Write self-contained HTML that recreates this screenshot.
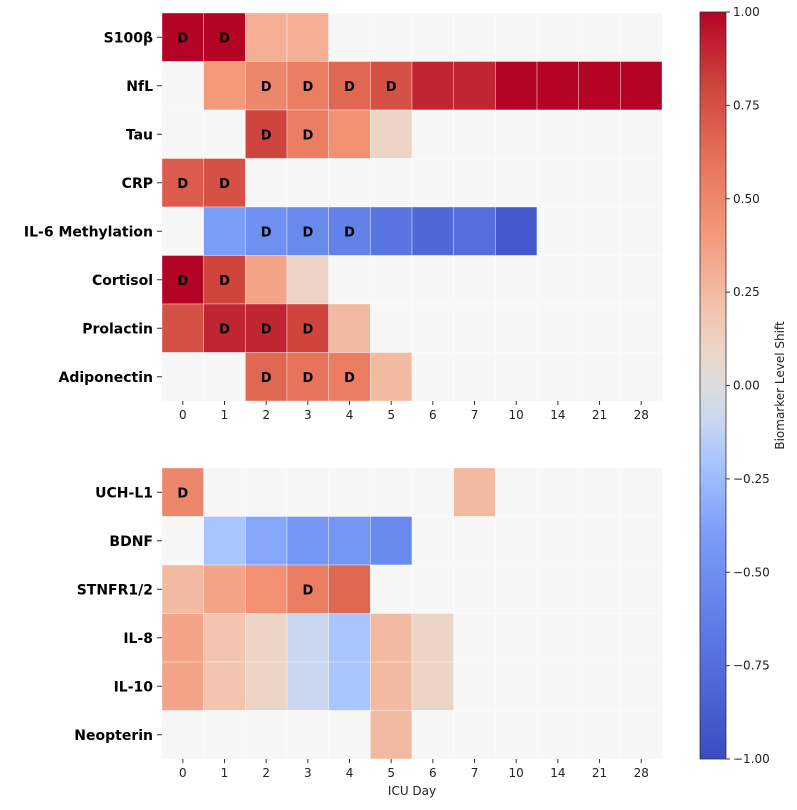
<!DOCTYPE html>
<html><head><meta charset="utf-8"><style>
body{margin:0;background:#fff;font-family:"DejaVu Sans","Liberation Sans",sans-serif}
</style></head><body>
<svg id="c" width="797" height="806" xmlns="http://www.w3.org/2000/svg">
<defs><linearGradient id="cg" x1="0" y1="1" x2="0" y2="0"></linearGradient></defs>
</svg>
<script>
const days=["0","1","2","3","4","5","6","7","10","14","21","28"];
const topRows=["S100β","NfL","Tau","CRP","IL-6 Methylation","Cortisol","Prolactin","Adiponectin"];
const topVals=[
[1,1,0.3,0.3,null,null,null,null,null,null,null,null],
[null,0.4,0.5,0.55,0.65,0.75,0.9,0.9,1,1,1,1],
[null,null,0.8,0.55,0.45,0.1,null,null,null,null,null,null],
[0.7,0.75,null,null,null,null,null,null,null,null,null,null],
[null,-0.4,-0.5,-0.55,-0.6,-0.7,-0.8,-0.75,-0.9,null,null,null],
[1,0.8,0.35,0.1,null,null,null,null,null,null,null,null],
[0.75,0.9,0.9,0.8,0.25,null,null,null,null,null,null,null],
[null,null,0.65,0.6,0.55,0.25,null,null,null,null,null,null]];
const topD=[[0,1],[2,3,4,5],[2,3],[0,1],[2,3,4],[0,1],[1,2,3],[2,3,4]];
const botRows=["UCH-L1","BDNF","STNFR1/2","IL-8","IL-10","Neopterin"];
const botVals=[
[0.5,null,null,null,null,null,null,0.25,null,null,null,null],
[null,-0.2,-0.35,-0.45,-0.45,-0.55,null,null,null,null,null,null],
[0.25,0.35,0.45,0.55,0.65,null,null,null,null,null,null,null],
[0.35,0.2,0.1,-0.1,-0.2,0.25,0.1,null,null,null,null,null],
[0.35,0.2,0.1,-0.1,-0.2,0.25,0.1,null,null,null,null,null],
[null,null,null,null,null,0.25,null,null,null,null,null,null]];
const botD=[[0],[],[3],[],[],[]];
const cbTicks=[1,0.75,0.5,0.25,0,-0.25,-0.5,-0.75,-1];

const svg=document.getElementById('c');const NS="http://www.w3.org/2000/svg";
function mk(t,a,p){const e=document.createElementNS(NS,t);for(const k in a)e.setAttribute(k,a[k]);(p||svg).appendChild(e);return e;}
const stops=[[59,76,192],[77,104,215],[98,130,234],[122,157,248],[168,197,253],[200,214,240],[221,221,221],[236,212,199],[243,196,175],[244,154,123],[230,115,90],[207,69,62],[180,4,38]];
const sp=[0,0.1,0.2,0.3,0.4,0.45,0.5,0.55,0.6,0.7,0.8,0.9,1];
function col(v){const t=(v+1)/2;let i=0;while(i<sp.length-2&&t>sp[i+1])i++;const f=(t-sp[i])/(sp[i+1]-sp[i]);const a=stops[i],b=stops[i+1];
return `rgb(${a.map((x,j)=>Math.round(x+(b[j]-x)*f)).join(',')})`;}
const grad=document.getElementById('cg');
sp.forEach((s,i)=>mk('stop',{offset:s,'stop-color':`rgb(${stops[i].join(',')})`},grad));
const X0=162,CW=41.67,RH=48.5;
const xs=i=>X0+i*CW;
function panel(rows,vals,D,y0,name,showLabel){
 const g=mk('g',{});
 rows.forEach((r,ri)=>{
  const y=y0+ri*RH;
  days.forEach((d,ci)=>{
   const v=vals[ri][ci];
   const rc=mk('rect',{x:xs(ci),y:y,width:CW,height:RH,fill:v==null?'#f7f7f7':col(v),stroke:'#fff','stroke-width':0.6,'stroke-opacity':0.6},g);
   
   
   if(D[ri].includes(ci)){const t=mk('text',{x:xs(ci)+CW/2,y:y+RH/2+5,'text-anchor':'middle','font-size':13,'font-weight':'bold',fill:'#000'},g);t.textContent='D';
    }
  });
  const l=mk('text',{x:X0-9,y:y+RH/2+5,'text-anchor':'end','font-size':14,'font-weight':'bold',fill:'#000'},g);l.textContent=r;
  
  mk('line',{x1:X0-5,x2:X0,y1:y+RH/2,y2:y+RH/2,stroke:'#333'},g);
 });
 const yb=y0+rows.length*RH;
 days.forEach((d,ci)=>{mk('line',{x1:xs(ci)+CW/2,x2:xs(ci)+CW/2,y1:yb,y2:yb+4,stroke:'#333'},g);
  const t=mk('text',{x:xs(ci)+CW/2,y:yb+18,'text-anchor':'middle','font-size':12,fill:'#222'},g);t.textContent=d;
  });
 if(showLabel){const t=mk('text',{x:X0+6*CW,y:yb+36,'text-anchor':'middle','font-size':12,fill:'#222'},g);t.textContent='ICU Day';
  }
}
panel(topRows,topVals,topD,13,'top-heatmap',false);
panel(botRows,botVals,botD,468,'bottom-heatmap',true);
const cb=mk('g',{});
const CT=12,CB=759,CX=700,CWd=26;
mk('rect',{x:CX,y:CT,width:CWd,height:CB-CT,fill:'url(#cg)',stroke:'#333','stroke-width':0.8},cb);
const cy=v=>CB-(v+1)/2*(CB-CT);
cbTicks.forEach(v=>{mk('line',{x1:CX+CWd,x2:CX+CWd+4,y1:cy(v),y2:cy(v),stroke:'#333'},cb);
 const t=mk('text',{x:CX+CWd+7,y:cy(v)+4,'font-size':12,fill:'#222'},cb);t.textContent=(v<0?'\u2212':'')+Math.abs(v).toFixed(2);
 });
const ct=mk('text',{x:0,y:0,'font-size':12,fill:'#222','text-anchor':'middle',transform:`translate(784,${(CT+CB)/2}) rotate(-90)`},cb);
ct.textContent='Biomarker Level Shift';
</script>
</body></html>
